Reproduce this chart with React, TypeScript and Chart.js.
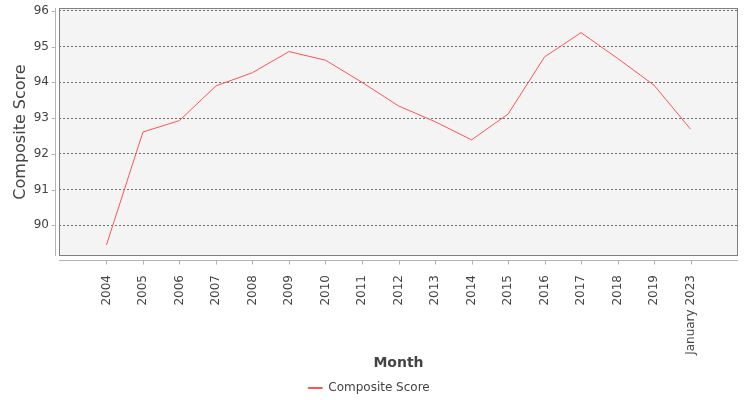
import React, { useRef, useEffect } from "react";
import { Chart, registerables } from "chart.js";

Chart.register(...registerables);

const months = [
    "2004", "2005", "2006", "2007", "2008", "2009", "2010", "2011", "2012",
    "2013", "2014", "2015", "2016", "2017", "2018", "2019", "January 2023",
];
const scores = [
    89.45, 92.61, 92.93, 93.9, 94.27, 94.86, 94.62, 94.0, 93.34,
    92.9, 92.39, 93.11, 94.71, 95.39, 94.67, 93.92, 92.69,
];
const yTicks = [90, 91, 92, 93, 94, 95, 96];

const FONT = "'DejaVu Sans', sans-serif";

// fondo gris, marco y ejes separados del área (estilo JFreeChart)
const plotFrame = {
    id: "plotFrame",
    beforeDraw(chart: any) {
        const { ctx, chartArea: a } = chart;
        ctx.save();
        ctx.fillStyle = "#f4f4f4";
        ctx.fillRect(a.left, a.top, a.right - a.left, a.bottom - a.top);
        ctx.restore();
    },
    afterDraw(chart: any) {
        const { ctx, chartArea: a, scales } = chart;
        ctx.save();
        ctx.lineWidth = 1;
        ctx.strokeStyle = "#808080";
        ctx.strokeRect(a.left + 0.5, a.top + 0.5, a.right - a.left - 1, a.bottom - a.top - 1);

        ctx.strokeStyle = "#b4b4b4";
        const ax = Math.round(a.left - 4) + 0.5;
        const ay = Math.round(a.bottom + 4) + 0.5;
        ctx.beginPath();
        ctx.moveTo(ax, a.top);
        ctx.lineTo(ax, a.bottom);
        ctx.moveTo(a.left, ay);
        ctx.lineTo(a.right, ay);
        yTicks.forEach((v) => {
            const py = Math.round(scales.y.getPixelForValue(v)) + 0.5;
            ctx.moveTo(ax - 4, py);
            ctx.lineTo(ax, py);
        });
        months.forEach((_, i) => {
            const px = Math.round(scales.x.getPixelForValue(i)) + 0.5;
            ctx.moveTo(px, ay);
            ctx.lineTo(px, ay + 4);
        });
        ctx.stroke();
        ctx.restore();
    },
};

const App: React.FC = () => {
    const chartRef = useRef<HTMLCanvasElement | null>(null);

    useEffect(() => {
        if (!chartRef.current) return;
        Chart.defaults.font.family = FONT;
        Chart.defaults.color = "#444";

        const chart = new Chart(chartRef.current, {
            type: "line",
            data: {
                datasets: [{
                    label: "Composite Score",
                    data: scores.map((y, i) => ({ x: i, y })),
                    borderColor: "#ff5555",
                    backgroundColor: "#ff5555",
                    borderWidth: 1,
                    pointRadius: 0,
                    fill: false,
                    tension: 0,
                }],
            },
            options: {
                animation: false,
                responsive: true,
                maintainAspectRatio: false,
                layout: { padding: { top: 8, right: 12, left: 0, bottom: -4 } },
                plugins: {
                    tooltip: { enabled: false },
                    legend: {
                        position: "bottom",
                        labels: {
                            boxWidth: 14,
                            boxHeight: 1,
                            padding: 10,
                            color: "#444",
                            font: { size: 12 },
                        },
                    },
                },
                scales: {
                    x: {
                        type: "linear",
                        min: -1.3,
                        max: 17.3,
                        afterBuildTicks: (s: any) => {
                            s.ticks = months.map((_, i) => ({ value: i }));
                        },
                        afterFit: (s: any) => {
                            s.height = 116;
                            s.paddingLeft = 0;
                            s.paddingRight = 0;
                            s.paddingTop = 0;
                            s.paddingBottom = 0;
                        },
                        grid: { display: false },
                        border: { display: false },
                        ticks: {
                            autoSkip: false,
                            minRotation: 90,
                            maxRotation: 90,
                            padding: 11,
                            color: "#444",
                            font: { size: 12 },
                            callback: (v: any) => months[v] ?? "",
                        },
                        title: {
                            display: true,
                            text: "Month",
                            color: "#444",
                            font: { size: 14, weight: "bold" },
                            padding: { top: 0, bottom: 0 },
                        },
                    },
                    y: {
                        min: 89.14,
                        max: 96.08,
                        afterBuildTicks: (s: any) => {
                            s.ticks = yTicks.map((v) => ({ value: v }));
                        },
                        afterFit: (s: any) => {
                            s.width = 59;
                            s.paddingTop = 0;
                            s.paddingBottom = 0;
                            s.paddingLeft = 0;
                            s.paddingRight = 0;
                        },
                        grid: { color: "#707070", drawTicks: false, lineWidth: 1 },
                        border: { display: false, dash: [2, 2] },
                        ticks: {
                            padding: 10,
                            color: "#444",
                            font: { size: 12 },
                        },
                        title: {
                            display: true,
                            text: "Composite Score",
                            color: "#444",
                            font: { size: 16 },
                            padding: { top: 11, bottom: 0 },
                        },
                    },
                },
            },
            plugins: [plotFrame],
        });

        return () => chart.destroy();
    }, []);

    return (
        <div style={{ position: "fixed", left: 0, top: 0, width: 750, height: 400, background: "#fff" }}>
            <canvas ref={chartRef} />
        </div>
    );
};

export default App;
